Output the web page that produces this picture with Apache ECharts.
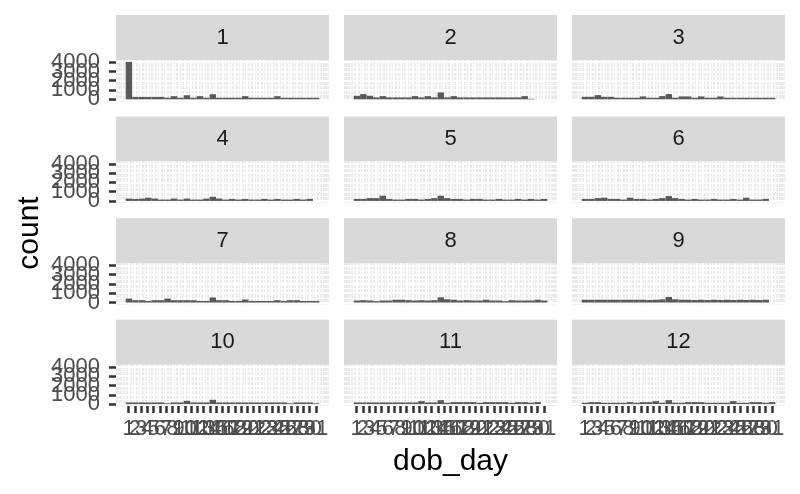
<!DOCTYPE html>
<html><head><meta charset="utf-8">
<script src="https://cdn.jsdelivr.net/npm/echarts@6/dist/echarts.min.js"></script>
<style>html,body{margin:0;padding:0;background:#fff}#c{width:800px;height:494px}</style>
</head><body><div id="c"></div>
<script>
// facet labels (dob_month)
const months = ['1','2','3','4','5','6','7','8','9','10','11','12'];
// x tick labels (dob_day) and y tick labels (count)
const dayTicks = [1,2,3,4,5,6,7,8,9,10,11,12,13,14,15,16,17,18,19,20,21,22,23,24,25,26,27,28,29,30,31];
const countTicks = [0,1000,2000,3000,4000];
// histogram counts, 30 bins per month
const m1  = [4030,260,260,260,260,260,170,340,170,440,170,340,170,550,170,170,170,170,340,170,170,170,170,340,170,170,170,170,170,170];
const m2  = [380,560,380,205,345,205,205,205,205,345,205,345,205,740,205,345,205,205,205,205,205,205,205,205,205,205,345,60,0,0];
const m3  = [270,270,450,270,270,170,170,170,170,310,170,170,345,560,170,310,310,170,310,170,170,310,170,170,170,170,170,170,170,170];
const m4  = [250,215,250,345,250,145,145,250,145,250,145,145,250,450,250,145,215,145,215,145,145,215,145,215,145,145,215,145,215,0];
const m5  = [215,215,300,300,560,215,145,145,215,215,145,215,300,560,300,215,215,145,215,215,145,145,215,145,145,215,145,215,145,215];
const m6  = [215,215,300,345,215,215,145,345,215,215,145,215,300,520,300,215,145,215,145,145,215,145,145,215,145,345,145,145,215,0];
const m7  = [430,250,250,170,250,250,430,250,250,250,250,170,170,540,250,250,170,170,325,170,170,170,170,250,170,250,250,170,170,170];
const m8  = [215,250,215,145,215,215,300,300,250,215,250,215,250,560,345,300,215,250,215,215,300,215,215,145,250,215,215,215,300,215];
const m9  = [300,300,300,300,300,300,300,300,300,300,270,300,345,600,345,300,300,270,300,270,300,270,300,270,300,270,300,270,300,0];
const m10 = [180,180,180,180,180,180,90,180,180,360,180,180,180,470,180,180,180,180,180,180,180,180,180,180,180,90,180,180,180,90];
const m11 = [180,180,180,180,180,180,180,180,180,180,325,180,180,430,145,215,215,215,215,145,215,215,215,215,145,215,215,145,215,0];
const m12 = [145,215,215,145,145,145,145,215,145,215,215,325,145,430,145,145,215,215,215,145,145,145,145,325,145,145,215,215,145,215];
const monthCounts = [m1,m2,m3,m4,m5,m6,m7,m8,m9,m10,m11,m12];

// ggplot2 bins=30 over range 1..31
const binWidth = 30/29;
const binOrigin = binWidth/2;
const edgeLo = binOrigin, edgeHi = binOrigin + 30*binWidth;
const xMin = edgeLo - 0.05*(edgeHi-edgeLo), xMax = edgeHi + 0.05*(edgeHi-edgeLo);
const yTop = Math.max(...m1);
const yMin = -0.05*yTop, yMax = 1.05*yTop;

const minorX = []; for (let v = 0; v <= 32; v += 0.5) if (v % 1 !== 0 || v === 0 || v === 32) minorX.push(v);
const minorY = [500,1500,2500,3500];

const FONT = '"Liberation Sans", Arial, Helvetica, sans-serif';
const colLeft = [116, 344, 572], panelW = 213;
const stripH = 45, plotH = 41.2, rowStep = 101.6, firstTop = 15;
const plain = v => String(Math.round(v));

const grids = [], xAxes = [], yAxes = [], series = [], graphics = [];
function gridAxis(gi, isX, values, width) {
  return {gridIndex: gi, type:'value', min: isX ? xMin : yMin, max: isX ? xMax : yMax,
    position: isX ? 'bottom' : 'left',
    axisLine:{show:false, onZero:false}, axisTick:{show:false, customValues: values},
    axisLabel:{show:false, customValues: values},
    splitLine:{show:true, lineStyle:{color:'#FFFFFF', width: width}}};
}
function labelAxis(gi, isX, value) {
  return {gridIndex: gi, type:'value', min: isX ? xMin : yMin, max: isX ? xMax : yMax,
    position: isX ? 'bottom' : 'left', offset: 0,
    axisLine:{show:false, onZero:false}, splitLine:{show:false},
    axisTick:{show:true, customValues:[value], length: 7, lineStyle:{color:'#333333', width:2.5}},
    axisLabel:{show:true, customValues:[value], formatter: plain, fontSize: 22, color:'#4D4D4D',
      margin: isX ? 12 : 16, fontFamily: FONT, showMinLabel:true, showMaxLabel:true}};
}
months.forEach((m, i) => {
  const r = Math.floor(i/3), c = i % 3;
  const stripTop = firstTop + r*rowStep;
  const top = stripTop + stripH;
  const bottomRow = r === 3, leftCol = c === 0;
  grids.push({left: colLeft[c], top: top, width: panelW, height: plotH, show: true,
    backgroundColor: '#EBEBEB', borderWidth: 0, containLabel: false});
  graphics.push({type:'rect', shape:{x: colLeft[c], y: stripTop, width: panelW, height: stripH},
    style:{fill:'#D9D9D9'}, silent:true});
  graphics.push({type:'text', x: colLeft[c] + panelW/2, y: stripTop + stripH/2,
    style:{text: m, fill:'#1A1A1A', font: '22px ' + FONT, textAlign:'center', textVerticalAlign:'middle'}});
  const gi = grids.length - 1;
  const xIdx = xAxes.length, yIdx = yAxes.length;
  xAxes.push(gridAxis(gi, true, dayTicks, 2));
  xAxes.push(gridAxis(gi, true, minorX, 1));
  yAxes.push(gridAxis(gi, false, countTicks, 2));
  yAxes.push(gridAxis(gi, false, minorY, 1));
  if (bottomRow) dayTicks.forEach(d => xAxes.push(labelAxis(gi, true, d)));
  if (leftCol) countTicks.forEach(v => yAxes.push(labelAxis(gi, false, v)));
  const data = monthCounts[i].map((v, k) => [binOrigin + k*binWidth, binOrigin + (k+1)*binWidth, v]);
  series.push({type:'custom', xAxisIndex: xIdx, yAxisIndex: yIdx, data: data,
    encode:{x:[0,1], y:2}, silent:true, animation:false, clip:false,
    renderItem: (params, api) => {
      const v = api.value(2);
      if (!(v > 0)) return null;
      const p0 = api.coord([api.value(0), v]);
      const p1 = api.coord([api.value(1), 0]);
      return {type:'rect', shape:{x:p0[0], y:p0[1], width:p1[0]-p0[0], height:p1[1]-p0[1]},
        style:{fill:'#595959'}};
    }});
});
graphics.push({type:'text', x: 450.5, y: 462,
  style:{text:'dob_day', fill:'#000', font:'30px ' + FONT, textAlign:'center', textVerticalAlign:'middle'}});
graphics.push({type:'text', x: 30, y: 233, rotation: Math.PI/2,
  style:{text:'count', fill:'#000', font:'30px ' + FONT, textAlign:'center', textVerticalAlign:'middle'}});

const chart = echarts.init(document.getElementById('c'), null, {renderer:'canvas'});
chart.setOption({animation:false, backgroundColor:'#FFFFFF', grid: grids, xAxis: xAxes, yAxis: yAxes,
  series: series, graphic: graphics});
</script></body></html>
